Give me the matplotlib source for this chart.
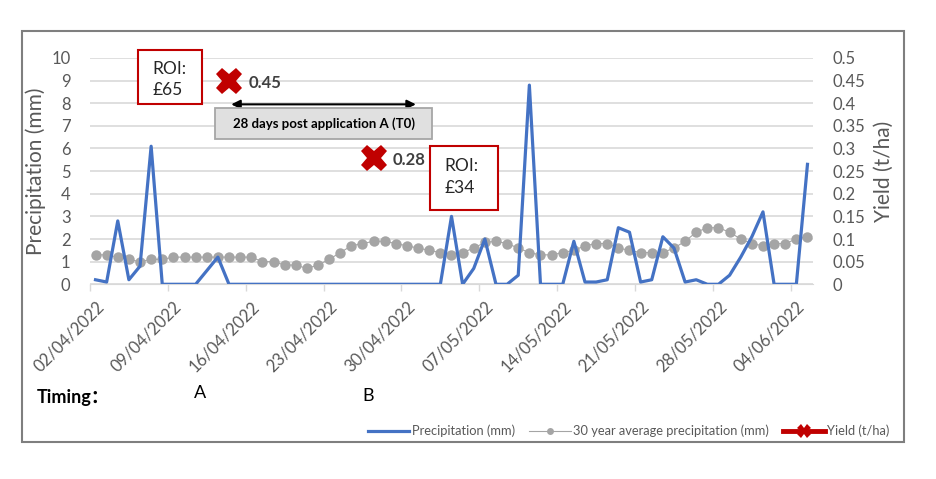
import matplotlib

matplotlib.use("Agg")

import matplotlib.pyplot as plt
from matplotlib.patches import Rectangle
from matplotlib.lines import Line2D
import pandas as pd

plt.rcParams["font.family"] = ["Lato", "Noto Sans CJK SC", "DejaVu Sans"]

# daily data, 02/04/2022 .. 05/06/2022
dates = pd.date_range("2022-04-02", "2022-06-05", freq="D")
precip = [
    0.2, 0.1, 2.8, 0.2, 0.8, 6.1, 0.0, 0.0, 0.0, 0.0,
    0.6, 1.2, 0.0, 0.0, 0.0, 0.0, 0.0, 0.0, 0.0, 0.0,
    0.0, 0.0, 0.0, 0.0, 0.0, 0.0, 0.0, 0.0, 0.0, 0.0,
    0.0, 0.0, 3.0, 0.0, 0.7, 2.0, 0.0, 0.0, 0.4, 8.8,
    0.0, 0.0, 0.0, 1.9, 0.1, 0.1, 0.2, 2.5, 2.3, 0.1,
    0.2, 2.1, 1.6, 0.1, 0.2, 0.0, 0.0, 0.4, 1.2, 2.1,
    3.2, 0.0, 0.0, 0.0, 5.3,
]
avg30 = [
    1.3, 1.3, 1.2, 1.1, 1.0, 1.1, 1.1, 1.2, 1.2, 1.2,
    1.2, 1.2, 1.2, 1.2, 1.2, 1.0, 1.0, 0.85, 0.85, 0.7,
    0.85, 1.1, 1.4, 1.7, 1.8, 1.9, 1.9, 1.8, 1.7, 1.6,
    1.5, 1.4, 1.3, 1.4, 1.6, 1.85, 1.9, 1.8, 1.6, 1.4,
    1.3, 1.3, 1.4, 1.5, 1.7, 1.8, 1.8, 1.6, 1.5, 1.4,
    1.4, 1.4, 1.6, 1.9, 2.3, 2.5, 2.5, 2.3, 2.0, 1.8,
    1.7, 1.8, 1.8, 2.0, 2.1,
]
yield_dates = ["2022-04-14", "2022-04-27"]
yield_vals = [0.45, 0.28]
yield_labels = ["0.45", "0.28"]
roi_labels = ["ROI:\n£65", "ROI:\n£34"]
tick_labels = [d.strftime("%d/%m/%Y") for d in dates[::7]]

BLUE = "#4472C4"
GREY = "#A5A5A5"
RED = "#C00000"
TXT = "#595959"

x = list(range(len(dates)))
day_idx = {d.strftime("%Y-%m-%d"): i for i, d in enumerate(dates)}

fig = plt.figure(figsize=(9.37, 4.79), dpi=100)
ax = fig.add_axes([0.096, 0.4065, 0.7717, 0.4725])
ax2 = ax.twinx()

ax.plot(x, precip, color=BLUE, linewidth=2.3, zorder=3)
ax.plot(x, avg30, color=GREY, linewidth=0.8, marker="o", markersize=7.5,
        markeredgewidth=0, zorder=2)

yx = [day_idx[d] for d in yield_dates]
ax2.plot(yx, yield_vals, linestyle="none", marker="X", markersize=19,
         color=RED, markeredgewidth=0, zorder=4)
for xi, yv, lab in zip(yx, yield_vals, yield_labels):
    ax2.annotate(lab, (xi, yv), xytext=(14, -2), textcoords="offset points",
                 fontsize=12, fontweight="bold", color="#404040", va="center")

ax.set_xlim(-0.5, len(x) - 0.5)
ax.set_ylim(0, 10)
ax2.set_ylim(0, 0.5)
ax.set_yticks(range(0, 11))
ax2.set_yticks([i * 0.05 for i in range(11)])
ax2.set_yticklabels(["0", "0.05", "0.1", "0.15", "0.2", "0.25", "0.3",
                     "0.35", "0.4", "0.45", "0.5"])
ax.set_xticks(x[::7])
ax.set_xticklabels(tick_labels, rotation=45, ha="right", rotation_mode="anchor",
                   fontsize=12, color=TXT)
ax.set_xticks([i - 0.5 for i in x[::7]], minor=True)
ax.tick_params(axis="x", which="major", length=0, pad=10)
ax.tick_params(axis="x", which="minor", length=5, color="#D9D9D9", width=1)
ax.tick_params(axis="y", length=0, labelsize=12, labelcolor=TXT, pad=14)
ax2.tick_params(axis="y", length=0, labelsize=12, labelcolor=TXT, pad=14)
ax.grid(axis="y", color="#D9D9D9", linewidth=1.2, zorder=0)
ax.set_axisbelow(True)
for a in (ax, ax2):
    for s in a.spines.values():
        s.set_visible(False)
ax.spines["bottom"].set_visible(True)
ax.spines["bottom"].set_color("#D9D9D9")

ax.set_ylabel("Precipitation (mm)", fontsize=15, color=TXT, labelpad=4)
ax2.set_ylabel("Yield (t/ha)", fontsize=15, color=TXT, labelpad=6)

# ROI boxes (x0, x1, y0, y1 in data units) and their text anchors
roi_boxes = [(3.8, 9.6, 7.95, 10.35), (30.1, 36.2, 3.3, 6.1)]
roi_text_xy = [(5.1, 9.05), (31.35, 4.75)]
for (x0, x1, y0, y1), (tx, ty), lab in zip(roi_boxes, roi_text_xy, roi_labels):
    ax.add_patch(Rectangle((x0, y0), x1 - x0, y1 - y0, facecolor="white",
                           edgecolor=RED, linewidth=1.5, clip_on=False,
                           zorder=5))
    ax.text(tx, ty, lab, fontsize=12.5, color="#262626", va="center",
            ha="left", linespacing=1.45, zorder=6)

# 28 days arrow + label box
ax.annotate("", xy=(12.2, 7.95), xytext=(28.8, 7.95),
            arrowprops=dict(arrowstyle="<|-|>", color="black", lw=1.5,
                            mutation_scale=13, shrinkA=0, shrinkB=0))
ax.add_patch(Rectangle((10.75, 6.43), 19.5, 1.34, facecolor="#E0E0E0",
                       edgecolor="#A6A6A6", linewidth=1.3, zorder=5))
ax.text(20.5, 7.1, "28 days post application A (T0)", fontsize=9.5,
        fontweight="bold", color="black", ha="center", va="center", zorder=6)

# timing texts
fig.text(37 / 937, 1 - 397 / 479, "Timing：", fontsize=13, fontweight="bold",
         color="black", va="center", ha="left")
fig.text(200 / 937, 1 - 393 / 479, "A", fontsize=13, color="black",
         va="center", ha="center")
fig.text(368 / 937, 1 - 396 / 479, "B", fontsize=13, color="black",
         va="center", ha="center")

# legend
handles = [
    Line2D([], [], color=BLUE, linewidth=2.3),
    Line2D([], [], color=GREY, linewidth=0.8, marker="o", markersize=5,
           markeredgewidth=0),
    Line2D([], [], color=RED, linewidth=3.5, marker="X", markersize=10,
           markeredgewidth=0),
]
fig.legend(handles, ["Precipitation (mm)", "30 year average precipitation (mm)",
                     "Yield (t/ha)"],
           loc="center right", bbox_to_anchor=(896 / 937, 1 - 431 / 479),
           ncol=3, frameon=False, fontsize=9.3, labelcolor=TXT,
           handlelength=3.2, handletextpad=0.2, columnspacing=1.1,
           borderpad=0)

# chart frame
fig.add_artist(Rectangle((22 / 937, 1 - 442 / 479), 882 / 937, 411 / 479,
                         transform=fig.transFigure, fill=False,
                         edgecolor="#7F7F7F", linewidth=1.5))

fig.savefig("out.png", dpi=100)
plt.close(fig)
